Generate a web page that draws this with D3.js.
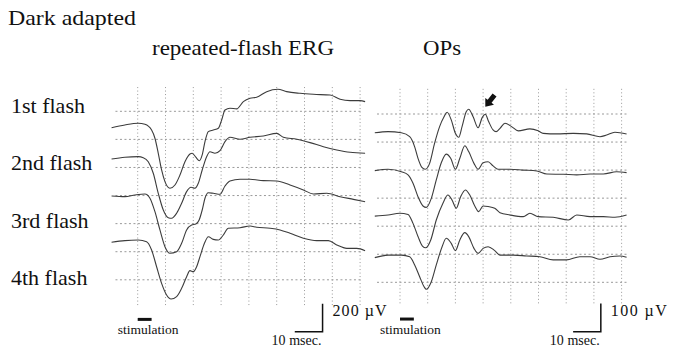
<!DOCTYPE html>
<html>
<head>
<meta charset="utf-8">
<script src="https://cdn.jsdelivr.net/npm/d3@7"></script>
<style>
  html, body { margin: 0; padding: 0; background: #fff; }
  svg { display: block; }
  text { font-family: "Liberation Serif", "Times New Roman", serif; fill: #111; }
</style>
</head>
<body>
<svg id="fig" width="673" height="348"></svg>
<script>
// Dark adapted repeated-flash ERG and oscillatory potentials (OPs)
// traces are [time (ms), amplitude (µV)]

const flashLabels = ["1st flash", "2nd flash", "3rd flash", "4th flash"];
const gridTimes = [0, 10, 20, 30, 40, 50, 60, 70, 80];
const ergGridVolts = [0, 200, 400, 600, 800, 1000, 1200];
const opsGridVolts = [0, 100, 200, 300, 400, 500, 600];

const ergFlash1 = [[-9.4,1083],[-4.6,1103],[0.2,1115],[2.6,1108],[5.0,1067],[6.2,1008],[7.4,901],[8.6,782],[9.8,699],[11.6,652],[13.4,675],[15.2,746],[17.0,841],[18.8,896],[19.6,901],[20.9,873],[22.2,848],[23.2,889],[24.2,984],[25.4,1055],[27.2,1067],[29.0,1079],[30.2,1138],[31.4,1209],[33.2,1222],[35.6,1217],[38.0,1269],[40.4,1293],[42.8,1300],[46.4,1340],[50.4,1357],[53.6,1340],[58.4,1328],[63.2,1321],[69.2,1316],[72.8,1286],[76.4,1276],[80.0,1276],[81.8,1269]];
const ergFlash2 = [[-9.4,860],[-4.6,873],[0.2,877],[2.0,870],[3.8,841],[5.6,759],[7.4,616],[9.2,497],[11.0,442],[12.2,438],[14.0,474],[15.8,545],[17.6,628],[19.2,659],[20.6,652],[21.8,687],[23.2,782],[24.8,877],[26.0,912],[27.8,901],[29.6,920],[31.4,984],[33.2,1015],[36.8,1001],[40.4,1015],[45.2,1024],[50.0,1043],[52.4,1015],[57.2,1001],[62.0,977],[66.8,948],[71.6,925],[76.4,908],[81.8,901]];
const ergFlash3 = [[-9.4,597],[-4.6,592],[-1.0,604],[2.6,611],[4.4,581],[6.2,485],[8.0,355],[9.8,236],[11.6,189],[14.0,200],[15.8,260],[17.6,355],[19.4,390],[20.9,397],[22.1,426],[23.2,497],[24.2,581],[25.4,620],[27.2,616],[29.6,609],[31.4,668],[33.2,704],[36.8,716],[40.4,716],[45.2,706],[50.0,704],[54.8,675],[59.6,640],[63.2,611],[68.0,616],[72.8,592],[77.6,573],[81.8,556]];
const ergFlash4 = [[-9.4,267],[-4.6,279],[0.2,283],[3.2,271],[5.0,212],[6.8,93],[8.6,-25],[10.4,-108],[12.0,-137],[14.0,-120],[15.8,-61],[17.6,22],[18.8,65],[20.0,58],[21.2,93],[22.4,165],[24.0,260],[25.4,307],[27.2,288],[29.0,283],[30.8,319],[32.6,367],[36.8,371],[40.4,383],[42.8,374],[47.6,367],[51.2,355],[54.8,331],[59.6,296],[64.4,279],[68.6,279],[71.6,248],[75.2,224],[78.8,224],[81.8,207]];

const opsFlash1 = [[-9.1,533],[-4.3,537],[0.5,533],[3.5,519],[5.3,483],[6.5,442],[7.9,410],[9.1,403],[10.7,424],[12.5,496],[14.3,555],[15.9,590],[17.0,606],[18.5,579],[20.0,531],[21.2,517],[22.4,555],[23.9,608],[24.8,617],[26.4,590],[28.2,551],[29.7,588],[30.8,599],[32.0,573],[33.6,543],[34.7,537],[36.1,549],[37.9,567],[40.3,555],[42.7,540],[46.9,547],[49.9,540],[51.7,531],[56.6,529],[62.6,531],[67.4,529],[72.2,519],[74.6,525],[77.6,535],[81.8,529]];
const opsFlash2 = [[-9.1,398],[-4.3,403],[0.5,394],[2.9,383],[4.7,353],[6.5,305],[8.3,272],[9.5,267],[11.3,299],[13.1,365],[14.9,426],[16.7,457],[18.3,442],[20.0,403],[21.6,442],[23.4,487],[24.8,466],[26.7,424],[28.2,403],[30.0,426],[31.8,430],[33.6,415],[35.4,403],[39.7,403],[44.5,400],[49.4,397],[53.0,386],[59.0,385],[63.8,383],[68.6,386],[73.4,386],[78.2,394],[81.8,391]];
const opsFlash3 = [[-9.1,236],[-4.3,240],[-0.1,246],[2.9,242],[4.7,210],[6.5,163],[8.1,129],[9.3,123],[11.1,151],[13.1,222],[15.5,282],[17.3,311],[18.8,293],[20.3,264],[21.9,305],[23.6,329],[25.2,311],[27.0,272],[28.4,252],[30.0,272],[31.8,270],[34.2,264],[36.1,248],[39.7,240],[44.5,234],[46.9,246],[49.9,234],[55.3,232],[60.8,222],[63.8,240],[68.6,234],[73.4,234],[77.6,232],[81.8,240]];
const opsFlash4 = [[-9.1,88],[-4.3,97],[0.5,97],[3.5,91],[5.3,62],[7.1,20],[8.7,-16],[9.5,-25],[11.3,2],[13.1,62],[15.2,127],[16.7,157],[18.5,139],[20.0,113],[21.6,151],[23.4,177],[24.8,163],[26.7,121],[28.2,103],[30.0,121],[31.8,127],[34.2,113],[36.1,97],[40.9,97],[45.7,94],[50.5,91],[55.3,80],[60.1,80],[64.9,91],[68.6,91],[72.2,82],[75.8,91],[79.4,94],[81.8,89]];

const ergTraces = [ergFlash1, ergFlash2, ergFlash3, ergFlash4];
const opsTraces = [opsFlash1, opsFlash2, opsFlash3, opsFlash4];

const svg = d3.select("#fig");
const font = 22;

svg.append("rect").attr("width", 673).attr("height", 348).attr("fill", "#fff");

// Headings (widths matched to the scan)
const heading = (txt, x, y, w) =>
  svg.append("text")
    .attr("x", x).attr("y", y)
    .attr("font-size", font)
    .attr("textLength", w)
    .attr("lengthAdjust", "spacingAndGlyphs")
    .text(txt);

heading("Dark adapted", 8, 25, 128);
heading("repeated-flash ERG", 152, 55, 182);
heading("OPs", 423, 55, 38);

// Row labels
const rowY = d3.scalePoint().domain(flashLabels).range([113, 285]);
svg.selectAll(".row-label")
  .data(flashLabels)
  .enter()
  .append("text")
  .attr("class", "row-label")
  .attr("x", 11)
  .attr("y", d => rowY(d))
  .attr("font-size", font)
  .text(d => d);

const drawPanel = (cfg) => {
  const { x, y, traces, gridVolts, gridExtent, scaleVolt, scaleLabel, scaleAt, labelW } = cfg;
  const g = svg.append("g");

  // dotted grid
  g.selectAll(".vgrid")
    .data(gridTimes)
    .enter()
    .append("line")
    .attr("x1", d => x(d)).attr("x2", d => x(d))
    .attr("y1", y(gridExtent.v[0])).attr("y2", y(gridExtent.v[1]))
    .attr("stroke", "#999")
    .attr("stroke-width", 1)
    .attr("stroke-dasharray", "1,2.5");

  g.selectAll(".hgrid")
    .data(gridVolts)
    .enter()
    .append("line")
    .attr("x1", x(gridExtent.t[0])).attr("x2", x(gridExtent.t[1]))
    .attr("y1", d => y(d)).attr("y2", d => y(d))
    .attr("stroke", "#999")
    .attr("stroke-width", 1)
    .attr("stroke-dasharray", "2,2.5");

  // traces
  const line = d3.line()
    .x(d => x(d[0]))
    .y(d => y(d[1]))
    .curve(d3.curveMonotoneX);

  g.selectAll(".trace")
    .data(traces)
    .enter()
    .append("path")
    .attr("fill", "none")
    .attr("stroke", "#3c3c3c")
    .attr("stroke-width", 1.1)
    .attr("stroke-linejoin", "round")
    .attr("d", line);

  // stimulation marker (0-5 ms)
  g.append("line")
    .attr("x1", x(0)).attr("x2", x(5))
    .attr("y1", y(scaleAt.stimV)).attr("y2", y(scaleAt.stimV))
    .attr("stroke", "#111")
    .attr("stroke-width", 3);
  g.append("text")
    .attr("x", x(0) - 20)
    .attr("y", 334)
    .attr("font-size", 13.5)
    .text("stimulation");

  // calibration bars
  const t1 = scaleAt.t, v0 = scaleAt.v;
  g.append("path")
    .attr("fill", "none")
    .attr("stroke", "#111")
    .attr("stroke-width", 1.5)
    .attr("d", `M${x(t1 - 10)},${y(v0)}H${x(t1)}V${y(v0 + scaleVolt)}`);
  g.append("text")
    .attr("x", x(t1) - 51)
    .attr("y", 345)
    .attr("font-size", 14)
    .attr("textLength", 50)
    .text("10 msec.");
  g.append("text")
    .attr("x", x(t1) + 10)
    .attr("y", 316)
    .attr("font-size", 16)
    .attr("textLength", labelW)
    .attr("lengthAdjust", "spacing")
    .text(scaleLabel);

  return g;
};

// ERG panel
const xErg = d3.scaleLinear().domain([0, 80]).range([137.7, 360.1]);
const yErg = d3.scaleLinear().domain([0, 1200]).range([279.8, 111.3]);
drawPanel({
  x: xErg, y: yErg, traces: ergTraces, gridVolts: ergGridVolts,
  gridExtent: { t: [-8, 81], v: [-180, 1390] },
  scaleVolt: 200, scaleLabel: "200 \u00b5V", labelW: 54,
  scaleAt: { t: 66.5, v: -370, stimV: -282 }
});

// OPs panel
const xOps = d3.scaleLinear().domain([0, 80]).range([400, 621.6]);
const yOps = d3.scaleLinear().domain([0, 600]).range([282.3, 114]);
const opsG = drawPanel({
  x: xOps, y: yOps, traces: opsTraces, gridVolts: opsGridVolts,
  gridExtent: { t: [-8.3, 81.8], v: [-75, 697] },
  scaleVolt: 100, scaleLabel: "100 \u00b5V", labelW: 56,
  scaleAt: { t: 72.5, v: -176, stimV: -131 }
});

// arrow marking the third OP wavelet of the 1st flash
const op3 = opsFlash1.find(d => d[0] === 30.8);
const ax = xOps(op3[0]), ay = yOps(op3[1]) - 7.5;
opsG.append("path")
  .attr("transform", `translate(${ax},${ay}) rotate(38)`)
  .attr("fill", "#111")
  .attr("d", "M0,0 L-5.5,-7 L-2.5,-7 L-2.5,-15 L2.5,-15 L2.5,-7 L5.5,-7 Z");
</script>
</body>
</html>
